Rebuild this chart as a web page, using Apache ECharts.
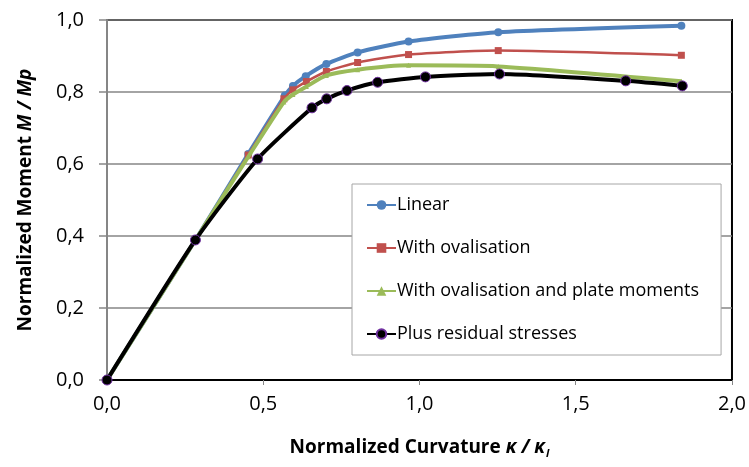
<!DOCTYPE html>
<html>
<head>
<meta charset="utf-8">
<script src="https://cdn.jsdelivr.net/npm/echarts@6/dist/echarts.min.js"></script>
<style>
  html, body { margin: 0; padding: 0; background: #fff; }
  #chart { width: 749px; height: 467px; }
</style>
</head>
<body>
<div id="chart"></div>
<script>
// curvature (x) and moment (y) values
const linearX = [0, 0.283, 0.452, 0.569, 0.595, 0.636, 0.702, 0.802, 0.965, 1.252, 1.838]
const linearY = [0, 0.389, 0.628, 0.79, 0.817, 0.844, 0.878, 0.91, 0.94, 0.966, 0.984]
const ovalX = [0, 0.283, 0.452, 0.566, 0.595, 0.638, 0.702, 0.802, 0.965, 1.252, 1.838]
const ovalY = [0, 0.389, 0.625, 0.781, 0.806, 0.829, 0.857, 0.882, 0.904, 0.915, 0.902]
const plateX = [0, 0.283, 0.452, 0.566, 0.595, 0.638, 0.702, 0.802, 0.965, 1.252, 1.838]
const plateY = [0, 0.389, 0.62, 0.772, 0.793, 0.815, 0.846, 0.862, 0.874, 0.871, 0.83]
const residualX = [0, 0.283, 0.482, 0.656, 0.703, 0.768, 0.866, 1.019, 1.256, 1.66, 1.841]
const residualY = [0, 0.389, 0.614, 0.756, 0.781, 0.804, 0.827, 0.842, 0.85, 0.831, 0.817]
const seriesNames = ['Linear', 'With ovalisation', 'With ovalisation and plate moments', 'Plus residual stresses']

const zip = (xs, ys) => xs.map((x, i) => [x, ys[i]])
const comma = v => v.toFixed(1).replace('.', ',')

const chart = echarts.init(document.getElementById('chart'))

const font = 'Open Sans'

const option = {
  animation: false,
  grid: {
    left: 107,
    right: 15,
    top: 20,
    bottom: 87,
    show: true,
    borderColor: '#000',
    borderWidth: 2
  },
  legend: {
    orient: 'vertical',
    left: 352,
    top: 184,
    padding: [11, 22, 11, 14],
    itemGap: 23,
    itemWidth: 29,
    itemHeight: 12,
    backgroundColor: '#fff',
    borderColor: '#a6a6a6',
    borderWidth: 1,
    data: seriesNames,
    textStyle: {
      fontFamily: font,
      fontSize: 18,
      color: '#000',
      lineHeight: 20,
      padding: [0, 0, 0, -4]
    }
  },
  xAxis: {
    type: 'value',
    min: 0,
    max: 2,
    interval: 0.5,
    name: '{b|Normalized Curvature }{i|κ / κ}{s|l}',
    nameLocation: 'middle',
    nameGap: 56,
    nameTextStyle: {
      rich: {
        b: { fontFamily: font, fontWeight: 'bold', fontSize: 19, color: '#000' },
        i: { fontFamily: font, fontWeight: 'bold', fontStyle: 'italic', fontSize: 19, color: '#000' },
        s: { fontFamily: font, fontWeight: 'bold', fontStyle: 'italic', fontSize: 11, color: '#000', padding: [12, 0, 0, 1] }
      }
    },
    axisLine: { show: true, lineStyle: { color: '#000', width: 2 } },
    axisTick: { show: true, length: 5, lineStyle: { color: '#868686' } },
    splitLine: { show: false },
    axisLabel: {
      margin: 14,
      fontFamily: font,
      fontSize: 20,
      color: '#000',
      formatter: comma
    }
  },
  yAxis: {
    type: 'value',
    min: 0,
    max: 1,
    interval: 0.2,
    name: '{b|Normalized Moment }{i|M / Mp}',
    nameLocation: 'middle',
    nameGap: 72,
    nameTextStyle: {
      rich: {
        b: { fontFamily: font, fontWeight: 'bold', fontSize: 19, color: '#000' },
        i: { fontFamily: font, fontWeight: 'bold', fontStyle: 'italic', fontSize: 19, color: '#000' }
      }
    },
    axisLine: { show: true, lineStyle: { color: '#868686', width: 2 } },
    axisTick: { show: true, length: 8, lineStyle: { color: '#868686', width: 1.5 } },
    splitLine: { lineStyle: { color: '#868686', width: 1.5 } },
    axisLabel: {
      margin: 23,
      fontFamily: font,
      fontSize: 20,
      color: '#000',
      formatter: comma
    }
  },
  series: [
    {
      name: seriesNames[0],
      type: 'line',
      data: zip(linearX, linearY),
      smooth: 0.2,
      symbol: 'circle',
      symbolSize: 8,
      itemStyle: { color: '#4f81bd' },
      lineStyle: { color: '#4f81bd', width: 4 },
      z: 2
    },
    {
      name: seriesNames[1],
      type: 'line',
      data: zip(ovalX, ovalY),
      smooth: 0.2,
      symbol: 'rect',
      symbolSize: 7,
      itemStyle: { color: '#c0504d' },
      lineStyle: { color: '#c0504d', width: 2.5 },
      z: 3
    },
    {
      name: seriesNames[2],
      type: 'line',
      data: zip(plateX, plateY),
      smooth: 0.2,
      symbol: 'triangle',
      symbolSize: 5,
      itemStyle: { color: '#9bbb59' },
      lineStyle: { color: '#9bbb59', width: 4 },
      z: 4
    },
    {
      name: seriesNames[3],
      type: 'line',
      data: zip(residualX, residualY),
      smooth: 0.2,
      symbol: 'circle',
      symbolSize: 10,
      itemStyle: { color: '#000', borderColor: '#7030a0', borderWidth: 1 },
      lineStyle: { color: '#000', width: 4 },
      z: 5
    }
  ]
}

option && chart.setOption(option)
</script>
</body>
</html>
